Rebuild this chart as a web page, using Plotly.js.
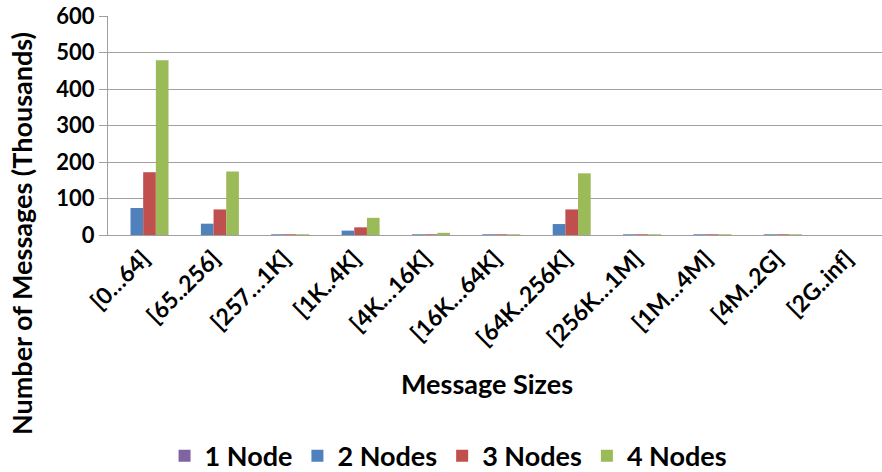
<!DOCTYPE html>
<html><head><meta charset="utf-8">
<script src="https://cdn.plot.ly/plotly-3.0.1.min.js"></script>
<style>html,body{margin:0;padding:0;background:#fff}#chart{width:882px;height:472px}</style>
</head><body><div id="chart"></div>
<script>
var categories = ["[0…64]","[65..256]","[257…1K]","[1K..4K]","[4K…16K]","[16K…64K]","[64K..256K]","[256K…1M]","[1M…4M]","[4M..2G]","[2G..inf]"];
var node1 = [0,0,0,0,0,0,0,0,0,0,0];
var node2 = [74,31,2,12,2,2,30,2,2,2,0];
var node3 = [172,70,2,21,2,2,70,2,2,2,0];
var node4 = [479,174,2,47,6,2,169,2,2,2,0];
var seriesNames = ["1 Node","2 Nodes","3 Nodes","4 Nodes"];
var colors = ["#8064A2","#4F81BD","#C0504D","#9BBB59"];
var yTicks = [0,100,200,300,400,500,600];
var xTitle = "Message Sizes";
var yTitle = "Number of Messages (Thousands)";

var data = [node1,node2,node3,node4].map(function(v,i){
  return {type:"bar", x:categories, y:v, name:seriesNames[i],
    marker:{color:colors[i], line:{width:0}}};
});
var font = "Lato, 'Open Sans', sans-serif";
var layout = {
  width:882, height:472,
  margin:{l:108, r:0, t:16, b:237, autoexpand:false},
  paper_bgcolor:"#fff", plot_bgcolor:"#fff",
  barmode:"group", bargap:0.28, bargroupgap:0,
  showlegend:true,
  legend:{orientation:"h", x:0.44, xanchor:"center", y:-1.01, yanchor:"middle",
    font:{family:font, size:27, color:"#000", weight:"bold"}, traceorder:"normal", itemwidth:16},
  xaxis:{type:"category", tickangle:-45, showgrid:false, showline:true, linecolor:"#a0a0a0", linewidth:1,
    ticks:"", tickfont:{family:font, size:23, color:"#000", weight:"bold"},
    automargin:false},
  yaxis:{range:[0,600], tickvals:yTicks, showgrid:true, gridcolor:"#a0a0a0", gridwidth:1,
    showline:true, linecolor:"#a0a0a0", linewidth:1, ticks:"outside", ticklen:8, tickcolor:"#a0a0a0",
    tickfont:{family:font, size:22, color:"#000", weight:"bold"}, zeroline:false,
    automargin:false},
  annotations:[
    {text:xTitle, xref:"paper", yref:"paper", x:0.49, y:-0.676, xanchor:"center", yanchor:"middle",
      showarrow:false, font:{family:font, size:27, color:"#000", weight:"bold"}},
    {text:yTitle, xref:"paper", yref:"paper", x:-0.111, y:0.0046, xanchor:"center", yanchor:"middle",
      textangle:-90, showarrow:false, font:{family:font, size:27, color:"#000", weight:"bold"}}
  ]
};
Plotly.newPlot("chart", data, layout, {displayModeBar:false, staticPlot:true});
</script></body></html>
